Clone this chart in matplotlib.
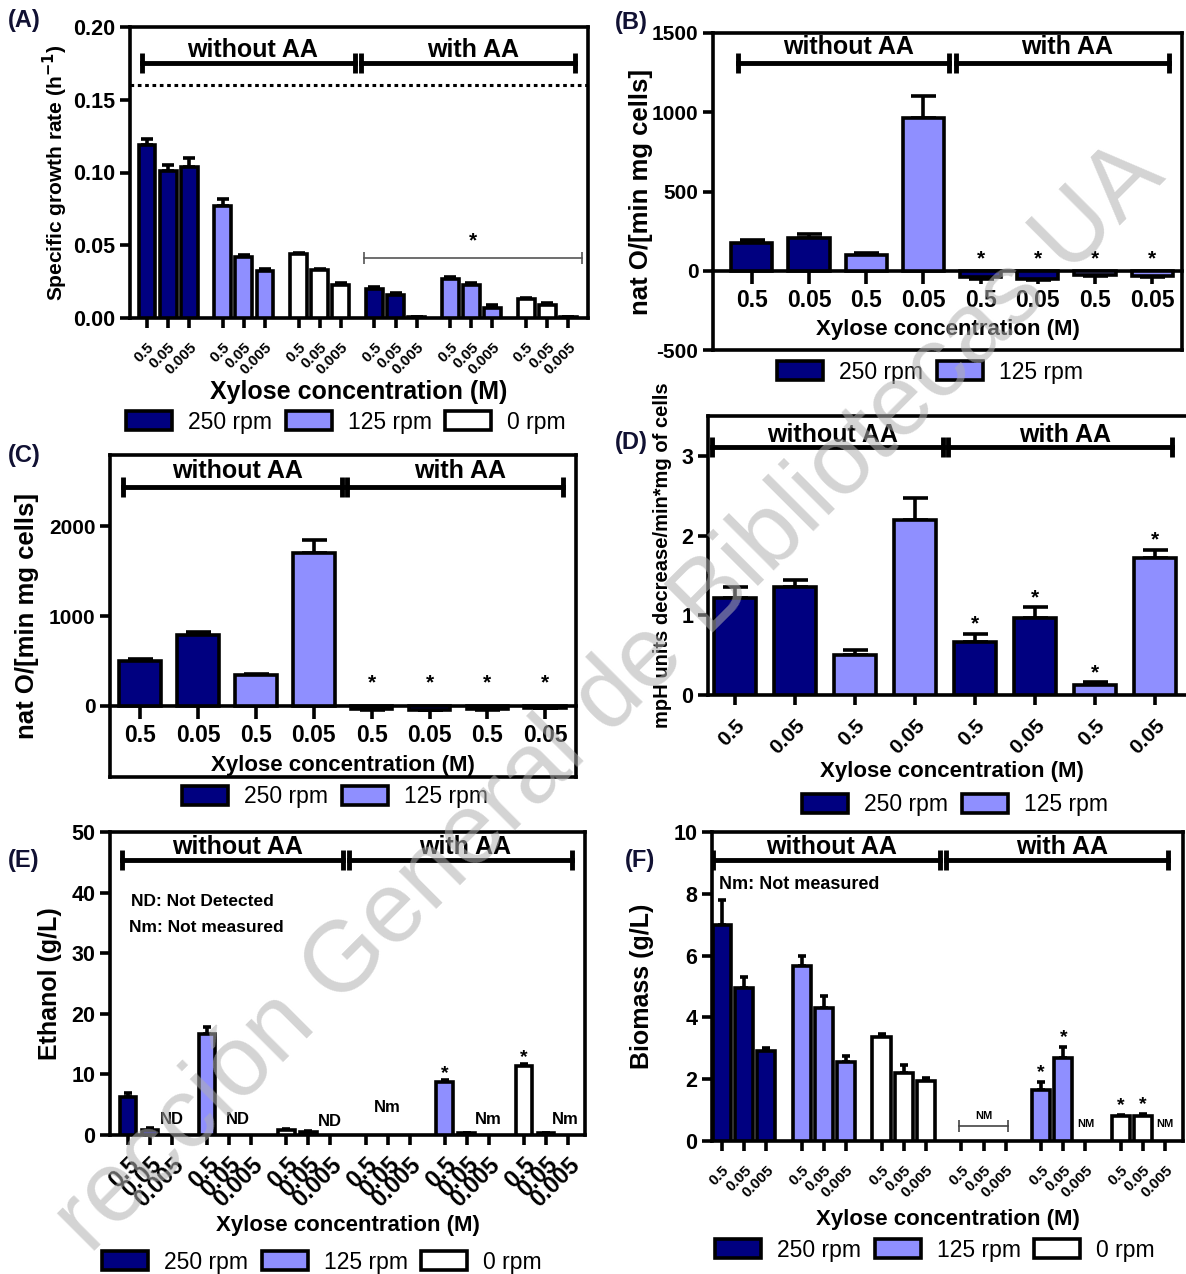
import numpy as np
import matplotlib
matplotlib.use("Agg")
import matplotlib.pyplot as plt
from matplotlib.patches import Patch
import matplotlib.transforms as mtrans

plt.rcParams['font.family'] = ['Liberation Sans', 'DejaVu Sans']

# ---------------- data ----------------
rpm_labels = ['250 rpm', '125 rpm', '0 rpm']
xylose3 = ['0.5', '0.05', '0.005']
xylose2 = ['0.5', '0.05']

# (A) specific growth rate: without AA (250,125,0 rpm) then with AA (250,125,0 rpm)
growth_mean = [0.119, 0.101, 0.104, 0.077, 0.042, 0.032, 0.044, 0.033, 0.023,
               0.020, 0.016, 0.001, 0.027, 0.023, 0.007, 0.013, 0.009, 0.001]
growth_err = [0.004, 0.004, 0.006, 0.005, 0.001, 0.002, 0.001, 0.001, 0.001,
              0.001, 0.001, 0.0, 0.001, 0.001, 0.002, 0.001, 0.001, 0.0]
growth_ref = 0.16

# (B) O2 consumption: without AA (250: 0.5,0.05; 125: 0.5,0.05) then with AA
respB_mean = [172, 205, 97, 965, -40, -50, -25, -30]
respB_err = [25, 25, 12, 135, 10, 10, 8, 10]
respB_rpm = [0, 0, 1, 1, 0, 0, 1, 1]

# (C) O2 consumption
respC_mean = [500, 790, 340, 1700, -30, -40, -30, -20]
respC_err = [20, 35, 15, 150, 10, 10, 10, 8]
respC_rpm = [0, 0, 1, 1, 0, 0, 1, 1]

# (D) acidification
acid_mean = [1.22, 1.36, 0.50, 2.20, 0.67, 0.97, 0.13, 1.72]
acid_err = [0.13, 0.08, 0.07, 0.27, 0.10, 0.13, 0.03, 0.10]
acid_rpm = [0, 0, 1, 1, 0, 0, 1, 1]

# (E) ethanol (nan = ND / Nm)
nan = np.nan
eth_mean = [6.2, 0.8, nan, 16.7, nan, nan, 0.9, 0.5, nan,
            nan, nan, nan, 8.8, 0.3, nan, 11.4, 0.3, nan]
eth_err = [0.8, 0.3, 0, 1.1, 0, 0, 0.1, 0.1, 0,
           0, 0, 0, 0.3, 0.05, 0, 0.3, 0.05, 0]

# (F) biomass
bio_mean = [7.0, 4.95, 2.9, 5.65, 4.3, 2.55, 3.35, 2.2, 1.95,
            nan, nan, nan, 1.65, 2.7, nan, 0.8, 0.8, nan]
bio_err = [0.8, 0.35, 0.1, 0.35, 0.4, 0.2, 0.1, 0.25, 0.1,
           0, 0, 0, 0.25, 0.35, 0, 0.05, 0.08, 0]

watermark = 'rección General de Bibliotecas UA'

# ---------------- style ----------------
DARK = '#000080'
LIGHT = '#8f8fff'
WHITE = '#ffffff'
COLS = [DARK, LIGHT, WHITE]
W, H = 1186, 1274
LW = 2.6

fig = plt.figure(figsize=(W / 100, H / 100), dpi=100)


def add_ax(l, r, t, b):
    ax = fig.add_axes([l / W, 1 - b / H, (r - l) / W, (b - t) / H])
    ax._box = (l, r, t, b)
    return ax


def style_ax(ax, ylim, yticks, yfmt, ylabel, ylsize, ylx, ytfs=15.5):
    ax.set_ylim(*ylim)
    ax.set_yticks(yticks)
    ax.set_yticklabels([yfmt(v) for v in yticks], fontweight='bold', fontsize=ytfs)
    for s in ax.spines.values():
        s.set_linewidth(LW)
    ax.tick_params(axis='both', width=LW, length=7, direction='out')
    ax.set_ylabel(ylabel, fontweight='bold', fontsize=ylsize, va='center')
    l, r, t, b = ax._box
    ax.yaxis.set_label_coords((ylx - l) / (r - l), 0.5)


def set_xlab(ax, ypx, fs=16):
    l, r, t, b = ax._box
    ax.set_xlabel('Xylose concentration (M)', fontweight='bold', fontsize=fs, va='center')
    ax.xaxis.set_label_coords(0.5, (b - ypx) / (b - t))


def bracket(ax, x0, x1, y, text, tx_y):
    tr = mtrans.blended_transform_factory(ax.transAxes, ax.transData)
    ax.plot([x0, x1], [y, y], color='k', lw=3.5, transform=tr, clip_on=False, zorder=5)
    ax.plot([x0, x1], [y, y], ls='none', marker='|', ms=15, mew=3.5, color='k',
            transform=tr, clip_on=False, zorder=5)
    ax.text((x0 + x1) / 2 + 0.01, tx_y, text, transform=tr, ha='center', va='center',
            fontweight='bold', fontsize=18)


def brackets(ax, b1, b2, y, ty):
    bracket(ax, b1[0], b1[1], y, 'without AA', ty)
    bracket(ax, b2[0], b2[1], y, 'with AA', ty)


def draw_bars(ax, x, means, errs, colors, width, capsize):
    x = np.asarray(x, float)
    m = np.asarray(means, float)
    e = np.asarray(errs, float)
    ok = ~np.isnan(m)
    ax.bar(x[ok], m[ok], width=width, color=[c for c, k in zip(colors, ok) if k],
           edgecolor='k', linewidth=LW, zorder=3)
    up = np.where(m[ok] >= 0, e[ok], 0)
    lo = np.where(m[ok] < 0, e[ok], 0)
    ax.errorbar(x[ok], m[ok], yerr=[lo, up], fmt='none', ecolor='k', elinewidth=LW,
                capsize=capsize, capthick=LW, zorder=2)


def panel_label(x, y, s):
    fig.text(x / W, 1 - y / H, s, fontweight='bold', fontsize=17, ha='left', va='center',
             color='#111133')


def legend(n, cx, cy, fs=16.5):
    handles = [Patch(facecolor=COLS[i], edgecolor='k', linewidth=LW) for i in range(n)]
    fig.legend(handles, rpm_labels[:n], loc='center', bbox_to_anchor=(cx / W, 1 - cy / H),
               ncol=n, frameon=False, fontsize=fs, handlelength=2.0, handleheight=0.9,
               handletextpad=0.7, columnspacing=0.6, borderaxespad=0)


x18 = [g * 3.6 + i for g in range(6) for i in range(3)]
col18 = [COLS[g % 3] for g in range(6) for i in range(3)]
lab18 = xylose3 * 6
x8 = list(range(8))
lab8 = xylose2 * 4

# ---------------- (A) ----------------
axA = add_ax(130, 588, 27, 318)
style_ax(axA, (0, 0.20), [0, 0.05, 0.10, 0.15, 0.20], lambda v: f'{v:.2f}',
         'Specific growth rate (h$^{\\mathbf{-1}}$)', 15, 55)
axA.set_xlim(-0.81, 20.94)
draw_bars(axA, x18, growth_mean, growth_err, col18, 0.8, 4)
axA.axhline(growth_ref, color='k', ls=(0, (1.2, 1.2)), lw=2.2, zorder=1)
axA.set_xticks(x18)
axA.set_xticklabels(lab18, rotation=45, ha='right', va='top', rotation_mode='anchor',
                    fontweight='bold', fontsize=11)
axA.tick_params(axis='x', pad=9)
set_xlab(axA, 392, 18)
brackets(axA, (0.026, 0.491), (0.504, 0.972), 0.175, 0.184)
trA = mtrans.blended_transform_factory(axA.transAxes, axA.transData)
axA.plot([0.511, 0.987], [0.041, 0.041], color='#555555', lw=1.2, transform=trA)
axA.plot([0.511, 0.987], [0.041, 0.041], ls='none', marker='|', ms=8, mew=1.2,
         color='#555555', transform=trA)
axA.text(0.749, 0.053, '*', transform=trA, ha='center', va='center', fontweight='bold',
         fontsize=15)
panel_label(8, 20, '(A)')
legend(3, 346, 422)

# ---------------- (B) / (C) ----------------
def resp_panel(box, ylim, yticks, means, errs, rpm, xlim, ylab, ylx, xly, star_y, br_y,
               tx_y, b1, b2, capsize):
    ax = add_ax(*box)
    style_ax(ax, ylim, yticks, lambda v: f'{v:d}', ylab, 18.5, ylx, ytfs=15)
    ax.set_xlim(*xlim)
    draw_bars(ax, x8, means, errs, [COLS[r] for r in rpm], 0.72, capsize)
    ax.spines['bottom'].set_position(('data', 0))
    ax.plot([0, 1], [0, 0], transform=ax.transAxes, color='k', lw=LW, clip_on=False,
            solid_capstyle='projecting')
    ax.set_xticks(x8)
    ax.set_xticklabels(lab8, fontweight='bold', fontsize=16.5)
    ax.tick_params(axis='x', length=9, pad=4)
    set_xlab(ax, xly, 16)
    for i in range(4, 8):
        ax.text(x8[i], star_y, '*', ha='center', va='center', fontweight='bold', fontsize=15)
    brackets(ax, b1, b2, br_y, tx_y)
    return ax


axB = resp_panel((713, 1182, 33, 350), (-500, 1500), [-500, 0, 500, 1000, 1500],
                 respB_mean, respB_err, respB_rpm, (-0.68, 7.52), 'nat O/[min mg cells]',
                 641, 330, 75, 1310, 1411, (0.053, 0.504), (0.519, 0.972), 9)
panel_label(615, 22, '(B)')
legend(2, 930, 372)

axC = resp_panel((110, 576, 455, 777), (-790, 2790), [0, 1000, 2000],
                 respC_mean, respC_err, respC_rpm, (-0.52, 7.53), 'nat O/[min mg cells]',
                 27, 766, 255, 2433, 2611, (0.028, 0.498), (0.509, 0.972), 9)
panel_label(8, 455, '(C)')
legend(2, 335, 797)

# ---------------- (D) ----------------
axD = add_ax(708, 1195, 416, 695)
style_ax(axD, (0, 3.5), [0, 1, 2, 3], lambda v: f'{v:d}',
         'mpH units decrease/min*mg of cells', 14.5, 662)
axD.set_xlim(-0.45, 7.67)
draw_bars(axD, x8, acid_mean, acid_err, [COLS[r] for r in acid_rpm], 0.7, 9)
axD.set_xticks(x8)
axD.set_xticklabels(lab8, rotation=45, ha='right', va='top', rotation_mode='anchor',
                    fontweight='bold', fontsize=15)
axD.tick_params(axis='x', pad=8)
set_xlab(axD, 771, 16)
for i in range(4, 8):
    axD.text(x8[i], acid_mean[i] + acid_err[i] + 0.12, '*', ha='center', va='center',
             fontweight='bold', fontsize=15)
brackets(axD, (0.008, 0.483), (0.493, 0.953), 3.11, 3.26)
panel_label(615, 443, '(D)')
legend(2, 955, 805)

# ---------------- (E) ----------------
axE = add_ax(110, 585, 832, 1135)
style_ax(axE, (0, 50), [0, 10, 20, 30, 40, 50], lambda v: f'{v:d}', 'Ethanol (g/L)', 18, 50)
axE.set_xlim(-0.82, 20.78)
draw_bars(axE, x18, eth_mean, eth_err, col18, 0.75, 3)
axE.set_xticks(x18)
axE.set_xticklabels(lab18, rotation=45, ha='right', va='top', rotation_mode='anchor',
                    fontweight='bold', fontsize=17)
axE.tick_params(axis='x', pad=6)
set_xlab(axE, 1226, 16)
brackets(axE, (0.025, 0.491), (0.503, 0.973), 45.4, 47.5)
for (xx, yy, s) in [(x18[2], 2.5, 'ND'), (x18[4] + 0.4, 2.5, 'ND'), (x18[8], 2.3, 'ND'),
                    (x18[10], 4.5, 'Nm'), (x18[14], 2.5, 'Nm'), (x18[17] - 0.1, 2.5, 'Nm')]:
    axE.text(xx, yy, s, ha='center', va='center', fontweight='bold', fontsize=12)
for i in (12, 15):
    axE.text(x18[i], eth_mean[i] + 1.3, '*', ha='center', va='center', fontweight='bold',
             fontsize=14)
axE.text(0.045, 0.77, 'ND: Not Detected', transform=axE.transAxes, fontweight='bold',
         fontsize=12.5, va='center')
axE.text(0.04, 0.685, 'Nm: Not measured', transform=axE.transAxes, fontweight='bold',
         fontsize=12.5, va='center')
panel_label(8, 860, '(E)')
legend(3, 322, 1262)

# ---------------- (F) ----------------
axF = add_ax(712, 1183, 832, 1141)
style_ax(axF, (0, 10), [0, 2, 4, 6, 8, 10], lambda v: f'{v:d}', 'Biomass (g/L)', 18, 642)
axF.set_xlim(-0.45, 20.8)
draw_bars(axF, x18, bio_mean, bio_err, col18, 0.82, 3)
axF.set_xticks(x18)
axF.set_xticklabels(lab18, rotation=45, ha='right', va='top', rotation_mode='anchor',
                    fontweight='bold', fontsize=11)
axF.tick_params(axis='x', pad=9)
set_xlab(axF, 1219, 16)
brackets(axF, (0.002, 0.484), (0.497, 0.968), 9.09, 9.5)
axF.text(0.015, 0.83, 'Nm: Not measured', transform=axF.transAxes, fontweight='bold',
         fontsize=13, va='center')
axF.plot([x18[9] - 0.1, x18[11] + 0.1], [0.5, 0.5], color='#444444', lw=1.2)
axF.plot([x18[9] - 0.1, x18[11] + 0.1], [0.5, 0.5], ls='none', marker='|', ms=8, mew=1.2,
         color='#444444')
axF.text(x18[10], 0.8, 'NM', ha='center', va='center', fontweight='bold', fontsize=8)
for i in (14, 17):
    axF.text(x18[i], 0.55, 'NM', ha='center', va='center', fontweight='bold', fontsize=8)
for i in (12, 13, 15, 16):
    axF.text(x18[i], bio_mean[i] + bio_err[i] + 0.3, '*', ha='center', va='center',
             fontweight='bold', fontsize=14)
panel_label(625, 860, '(F)')
legend(3, 935, 1250)

# ---------------- watermark (fitted inside the canvas) ----------------
wm_cx, wm_cy, wm_fs = 612, 699, 72
wm = fig.text(wm_cx / W, 1 - wm_cy / H, watermark, rotation=45, ha='center', va='center',
              fontsize=wm_fs, color='#b0b0b0', alpha=0.55, zorder=100)
fig.canvas.draw()
rend = fig.canvas.get_renderer()
bb = wm.get_window_extent(rend)
margin = 4
sc = min(1.0, (W - 2 * margin) / bb.width, (H - 2 * margin) / bb.height)
if sc < 1.0:
    wm.set_fontsize(wm_fs * sc)
    fig.canvas.draw()
    bb = wm.get_window_extent(rend)
dx = 0.0
dy = 0.0
if bb.x0 < margin:
    dx = margin - bb.x0
elif bb.x1 > W - margin:
    dx = W - margin - bb.x1
if bb.y0 < margin:
    dy = margin - bb.y0
elif bb.y1 > H - margin:
    dy = H - margin - bb.y1
px, py = wm.get_position()
wm.set_position((px + dx / W, py + dy / H))

fig.savefig('out.png', dpi=100)
